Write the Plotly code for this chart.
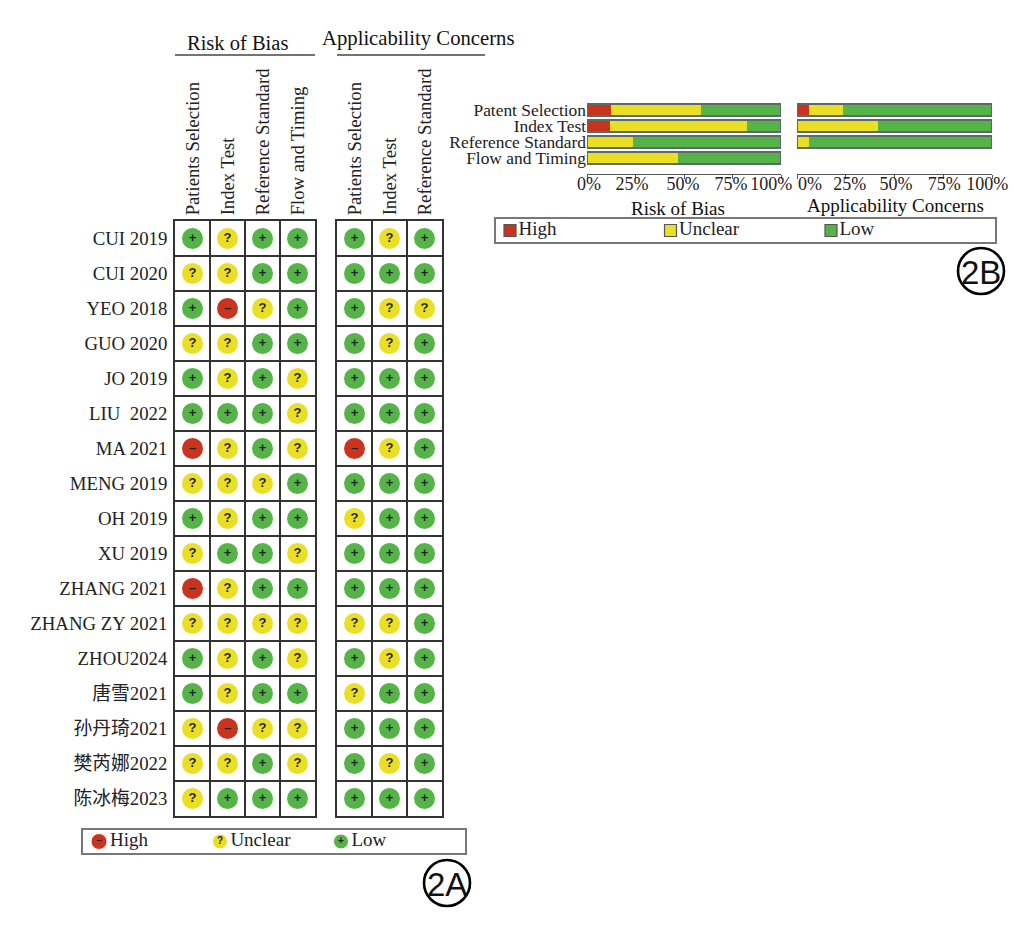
import plotly.graph_objects as go

W, H = 1028, 937

# ---------- data ----------
studies = ["CUI 2019", "CUI 2020", "YEO 2018", "GUO 2020", "JO 2019", "LIU  2022", "MA 2021",
           "MENG 2019", "OH 2019", "XU 2019", "ZHANG 2021", "ZHANG ZY 2021", "ZHOU2024",
           "唐雪2021", "孙丹琦2021", "樊芮娜2022", "陈冰梅2023"]
rob_domains = ["Patients Selection", "Index Test", "Reference Standard", "Flow and Timing"]
app_domains = ["Patients Selection", "Index Test", "Reference Standard"]

rob_patient = ["L","U","L","U","L","L","H","U","L","U","H","U","L","L","U","U","U"]
rob_index   = ["U","U","H","U","U","L","U","U","U","L","U","U","U","U","H","U","L"]
rob_ref     = ["L","L","U","L","L","L","L","U","L","L","L","U","L","L","U","L","L"]
rob_flow    = ["L","L","L","L","U","U","U","L","L","U","L","U","U","L","U","U","L"]
app_patient = ["L","L","L","L","L","L","H","L","U","L","L","U","L","U","L","L","L"]
app_index   = ["U","L","U","U","L","L","U","L","L","L","L","U","U","L","L","U","L"]
app_ref     = ["L","L","U","L","L","L","L","L","L","L","L","L","L","L","L","L","L"]

bar_domains = ["Patent Selection", "Index Test", "Reference Standard", "Flow and Timing"]
rob_high    = [12.5, 12, 0, 0]
rob_unclear = [46.5, 70.5, 23.5, 47]
rob_low     = [41, 17.5, 76.5, 53]
app_domains_bar = ["Patent Selection", "Index Test", "Reference Standard"]
app_high    = [6, 0, 0]
app_unclear = [17.5, 41.5, 6]
app_low     = [76.5, 58.5, 94]
bar_ticks = [0, 25, 50, 75, 100]
bar_ticktext = ["0%", "25%", "50%", "75%", "100%"]
# tick labels in the picture sit slightly off their ticks so they do not collide
rob_label_nudge = [1, -1.8, -0.5, -0.8, -5]
app_label_nudge = [6.7, 2, 0.8, 0.5, -2.5]

levels = ["High", "Unclear", "Low"]
level_keys = ["H", "U", "L"]
glyphs = {"H": "–", "U": "?", "L": "+"}
colors = {"H": "#C9341F", "U": "#EADF24", "L": "#55B348"}
SERIF = "Liberation Serif, Noto Sans CJK SC, serif"
INK = "#222222"


def dx(a, b):
    return [a / W, b / W]


def dy(top, bottom):
    return [1 - bottom / H, 1 - top / H]


fig = go.Figure()


def add_grid(columns, xa, ya):
    for key in level_keys:
        xs, ys = [], []
        for c, col in enumerate(columns):
            for r, v in enumerate(col):
                if v == key:
                    xs.append(c)
                    ys.append(r)
        fig.add_trace(go.Scatter(
            x=xs, y=ys, xaxis=xa, yaxis=ya, mode="markers+text", showlegend=False,
            name=levels[level_keys.index(key)],
            marker=dict(size=21, color=colors[key], line=dict(width=0)),
            text=[glyphs[key]] * len(xs), textposition="middle center",
            textfont=dict(family="Liberation Sans", size=13, color="#1c2430", weight="bold"),
            hoverinfo="skip"))


add_grid([rob_patient, rob_index, rob_ref, rob_flow], "x", "y")
add_grid([app_patient, app_index, app_ref], "x2", "y2")


def add_bars(cats, high, unclear, low, xa, ya, xo, yo):
    for name, key, vals in zip(levels, level_keys, [high, unclear, low]):
        fig.add_trace(go.Bar(y=cats, x=vals, orientation="h", xaxis=xa, yaxis=ya, name=name,
                             marker=dict(color=colors[key], line=dict(width=0)),
                             width=0.76, showlegend=False))
    totals = [a + b + c for a, b, c in zip(high, unclear, low)]
    fig.add_trace(go.Bar(y=cats, x=totals, orientation="h", xaxis=xo, yaxis=yo, showlegend=False,
                         marker=dict(color="rgba(0,0,0,0)", line=dict(width=1.3, color="#5a6a66")),
                         width=0.76, hoverinfo="skip"))


add_bars(bar_domains, rob_high, rob_unclear, rob_low, "x3", "y3", "x5", "y5")
add_bars(app_domains_bar, app_high, app_unclear, app_low, "x4", "y4", "x6", "y6")

# circle legend (2A) and square legend (2B)
fig.add_trace(go.Scatter(
    x=[0, 1, 2], y=[0, 0, 0], xaxis="x7", yaxis="y7", mode="markers+text", showlegend=False,
    marker=dict(size=[16, 15, 15], color=[colors[k] for k in level_keys], opacity=1),
    text=levels, textposition="middle right",
    textfont=dict(family=SERIF, size=19, color=INK), hoverinfo="skip"))
fig.add_trace(go.Scatter(
    x=[0, 1, 2], y=[0, 0, 0], xaxis="x7", yaxis="y7", mode="text", showlegend=False,
    text=[glyphs[k] for k in level_keys], textposition="middle center",
    textfont=dict(family="Liberation Sans", size=10, color="#1c2430", weight="bold"), hoverinfo="skip"))
fig.add_trace(go.Scatter(
    x=[0, 1, 2], y=[0, 0, 0], xaxis="x8", yaxis="y8", mode="markers+text", showlegend=False,
    marker=dict(size=12, symbol="square", color=[colors[k] for k in level_keys], opacity=1,
                line=dict(width=1.2, color="#555555")),
    text=levels, textposition="middle right",
    textfont=dict(family=SERIF, size=19, color=INK), hoverinfo="skip"))

GRID_TOP, GRID_BOTTOM = 221, 816
grid_line = "#333333"
clear = "rgba(0,0,0,0)"


def grid_x(domain, labels, anchor):
    return dict(domain=domain, range=[-0.5, len(labels) - 0.5], side="top", anchor=anchor,
                tickvals=list(range(len(labels))), ticktext=labels, tickangle=-90,
                tickfont=dict(family=SERIF, size=18.7, color=INK),
                ticks="", showgrid=False, zeroline=False,
                showline=True, mirror=True, linecolor=grid_line, linewidth=1.8,
                minor=dict(tick0=0.5, dtick=1, showgrid=True, gridcolor=grid_line, gridwidth=1.8, ticks=""))


def grid_y(anchor, labels):
    return dict(domain=dy(GRID_TOP, GRID_BOTTOM), range=[len(studies) - 0.5, -0.5], anchor=anchor,
                tickvals=list(range(len(studies))), ticktext=labels,
                tickfont=dict(family=SERIF, size=18.8, color=INK),
                ticks="outside", ticklen=2, tickcolor=clear, showgrid=False, zeroline=False,
                showline=True, mirror=True, linecolor=grid_line, linewidth=1.8,
                minor=dict(tick0=0.5, dtick=1, showgrid=True, gridcolor=grid_line, gridwidth=1.8, ticks=""))


def bar_x(domain):
    return dict(domain=domain, range=[0, 100], anchor="free", position=1 - 174 / H,
                tickvals=bar_ticks, showticklabels=False, ticks="outside", ticklen=4,
                tickcolor="#555555", showgrid=False, zeroline=False, showline=True,
                linecolor="#555555", linewidth=1)


def bar_y(labels, show, anchor):
    return dict(domain=dy(102, 166), type="category", categoryorder="array", categoryarray=labels,
                anchor=anchor, autorange=False, range=[3.5, -0.5], showticklabels=show,
                ticks="", tickmode="array", tickvals=labels, ticktext=labels,
                tickfont=dict(family=SERIF, size=17.4, color=INK),
                showgrid=False, zeroline=False, showline=False)


def label_overlay_x(base, nudge):
    return dict(overlaying=base, range=[0, 100], anchor="free", position=1 - 171 / H,
                tickvals=[t + n for t, n in zip(bar_ticks, nudge)], ticktext=bar_ticktext,
                tickfont=dict(family=SERIF, size=18, color=INK), ticks="", showgrid=False,
                zeroline=False, showline=False)


def hidden_overlay_y(base, anchor):
    return dict(overlaying=base, anchor=anchor, type="category", categoryorder="array",
                categoryarray=bar_domains, range=[3.5, -0.5], visible=False)


def legend_axis(domain, rng, anchor):
    return dict(domain=domain, range=rng, anchor=anchor, showticklabels=False, ticks="", showgrid=False,
                zeroline=False, showline=True, mirror=True, linecolor="#777777", linewidth=1.6, fixedrange=True)


fig.update_layout(
    width=W, height=H, margin=dict(l=0, r=0, t=0, b=0, autoexpand=False),
    paper_bgcolor="white", plot_bgcolor="white", barmode="stack", showlegend=False,
    xaxis=grid_x(dx(175, 315), rob_domains, "y"),
    yaxis=grid_y("x", studies),
    xaxis2=grid_x(dx(337, 442), app_domains, "y2"),
    yaxis2=grid_y("x2", [""] * len(studies)),
    xaxis3=bar_x(dx(587, 781)),
    yaxis3=bar_y(bar_domains, True, "x3"),
    xaxis4=bar_x(dx(797, 992)),
    yaxis4=bar_y(bar_domains, False, "x4"),
    xaxis5=label_overlay_x("x3", rob_label_nudge),
    yaxis5=hidden_overlay_y("y3", "x5"),
    xaxis6=label_overlay_x("x4", app_label_nudge),
    yaxis6=hidden_overlay_y("y4", "x6"),
    xaxis7=legend_axis(dx(83, 465), [-16 / 121, 366 / 121], "y7"),
    yaxis7=legend_axis(dy(830, 853), [-1, 1], "x7"),
    xaxis8=legend_axis(dx(496, 995), [-14 / 160.5, 485 / 160.5], "y8"),
    yaxis8=legend_axis(dy(219, 242), [-1, 1], "x8"),
)


def note(text, x, y, size, family=SERIF):
    fig.add_annotation(text=text, x=x / W, y=1 - y / H, xref="paper", yref="paper", showarrow=False,
                       xanchor="center", yanchor="middle", font=dict(family=family, size=size, color="#111111"))


note("Risk of Bias", 237, 43, 20.5)
note("Applicability Concerns", 418, 39, 20.7)
note("Risk of Bias", 678, 208, 19)
note("Applicability Concerns", 895, 206, 19)
note("2A", 447, 884, 33, "Liberation Sans")
note("2B", 981, 272, 33, "Liberation Sans")

for x0, x1 in [(175, 315), (337, 485)]:
    fig.add_shape(type="line", xref="paper", yref="paper", x0=x0 / W, x1=x1 / W,
                  y0=1 - 55 / H, y1=1 - 55 / H, line=dict(color="#444444", width=1.4))
for cx, cy in [(447, 883), (981, 271)]:
    fig.add_shape(type="circle", xref="paper", yref="paper", x0=(cx - 23) / W, x1=(cx + 23) / W,
                  y0=1 - (cy + 23) / H, y1=1 - (cy - 23) / H, line=dict(color="#000000", width=2.6))

fig.write_html("out.html", config=dict(displayModeBar=False), post_script="document.body.style.margin='0';")
